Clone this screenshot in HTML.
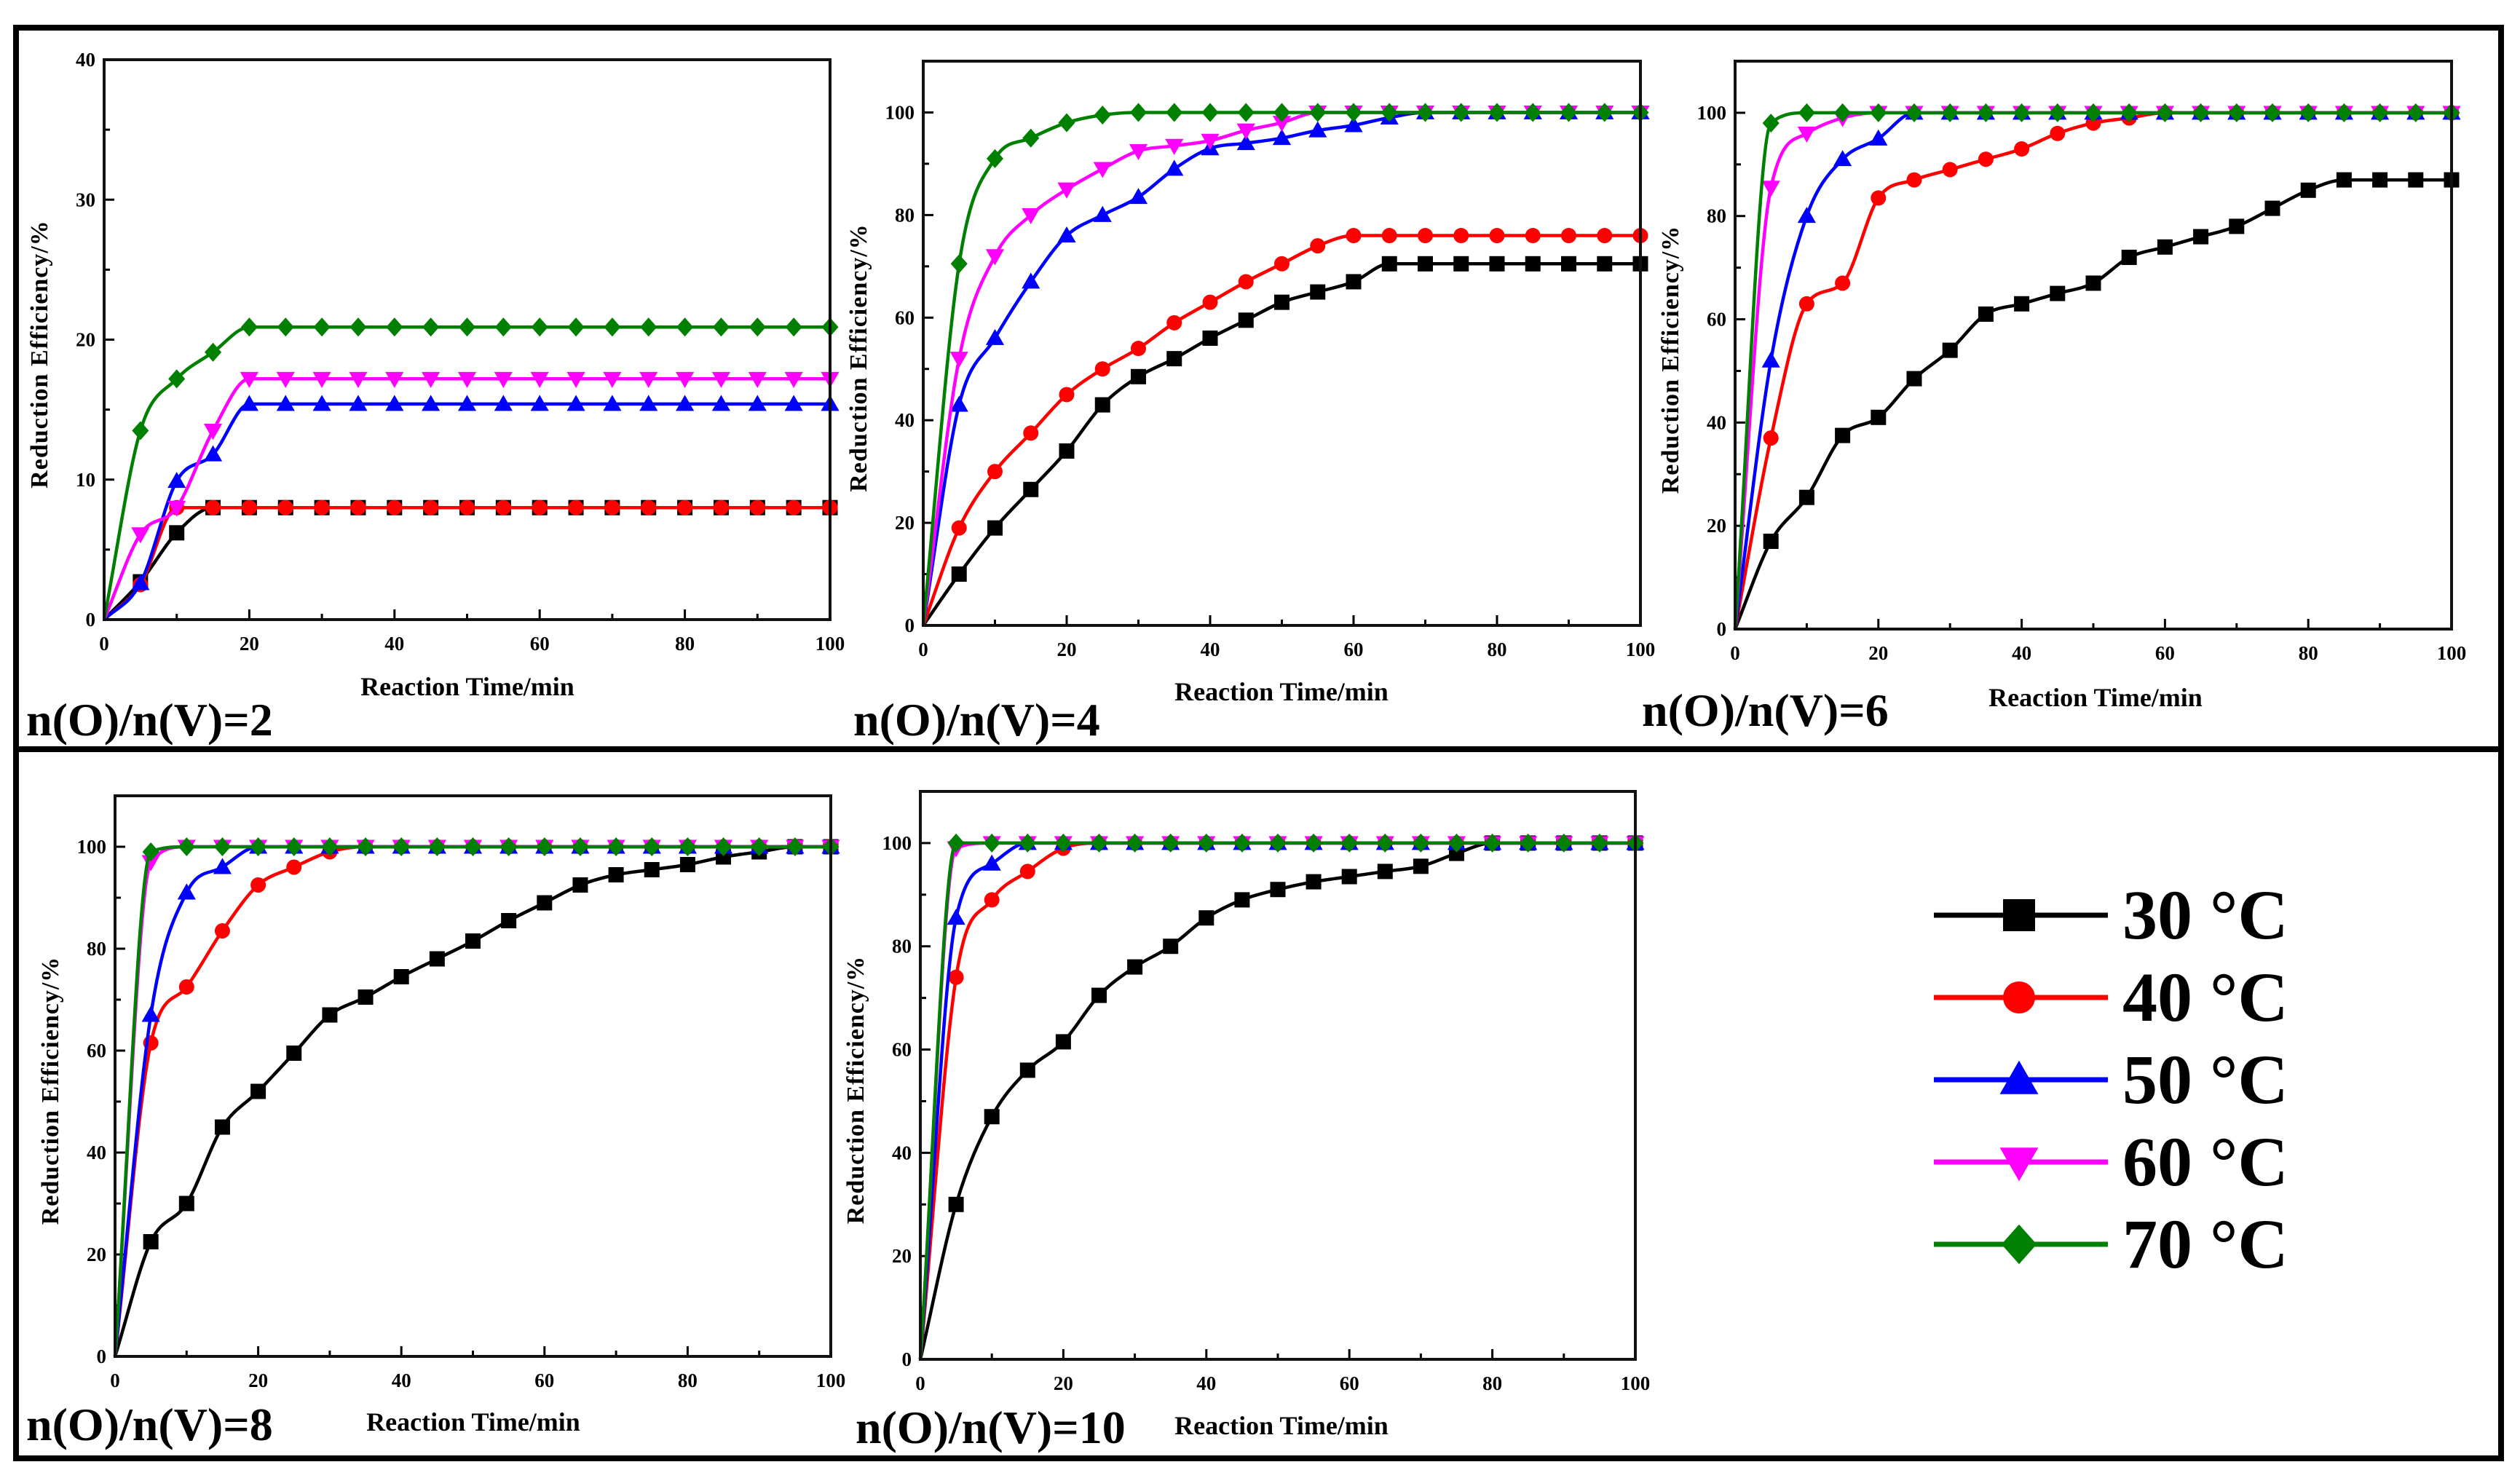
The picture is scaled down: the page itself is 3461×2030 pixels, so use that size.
<!DOCTYPE html>
<html><head><meta charset="utf-8">
<style>
html,body{margin:0;padding:0;background:#fff;}
svg{display:block;}
text{font-family:"Liberation Serif",serif;font-weight:bold;}
</style></head>
<body>
<svg id="fig" width="3461" height="2030" viewBox="0 0 3461 2030" xmlns="http://www.w3.org/2000/svg">
  <g fill="none" stroke="#000" stroke-width="8">
    <rect x="22" y="38" width="3413" height="991"/>
    <rect x="22" y="1029" width="3413" height="974"/>
  </g>
  <g id="panels"></g>
  <g id="legend"></g>
</svg>
<script>
const xTimes = [0,5,10,15,20,25,30,35,40,45,50,55,60,65,70,75,80,85,90,95,100];
const seriesNames = ["30 °C","40 °C","50 °C","60 °C","70 °C"];
const seriesColors = ["#000000","#ff0000","#0000ff","#ff00ff","#008000"];
const seriesMarkers = ["square","circle","triangle","invtriangle","diamond"];

const p1Black   = [0,2.7,6.2,8,8,8,8,8,8,8,8,8,8,8,8,8,8,8,8,8,8];
const p1Red     = [0,2.5,8,8,8,8,8,8,8,8,8,8,8,8,8,8,8,8,8,8,8];
const p1Blue    = [0,2.6,9.9,11.8,15.4,15.4,15.4,15.4,15.4,15.4,15.4,15.4,15.4,15.4,15.4,15.4,15.4,15.4,15.4,15.4,15.4];
const p1Magenta = [0,6.1,8,13.5,17.2,17.2,17.2,17.2,17.2,17.2,17.2,17.2,17.2,17.2,17.2,17.2,17.2,17.2,17.2,17.2,17.2];
const p1Green   = [0,13.5,17.2,19.1,20.9,20.9,20.9,20.9,20.9,20.9,20.9,20.9,20.9,20.9,20.9,20.9,20.9,20.9,20.9,20.9,20.9];

const p2Black   = [0,10,19,26.5,34,43,48.5,52,56,59.5,63,65,67,70.5,70.5,70.5,70.5,70.5,70.5,70.5,70.5];
const p2Red     = [0,19,30,37.5,45,50,54,59,63,67,70.5,74,76,76,76,76,76,76,76,76,76];
const p2Blue    = [0,43,56,67,76,80,83.5,89,93,94,95,96.5,97.5,99,100,100,100,100,100,100,100];
const p2Magenta = [0,52,72,80,85,89,92.5,93.5,94.5,96.5,98,100,100,100,100,100,100,100,100,100,100];
const p2Green   = [0,70.5,91,95,98,99.5,100,100,100,100,100,100,100,100,100,100,100,100,100,100,100];

const p3Black   = [0,17,25.5,37.5,41,48.5,54,61,63,65,67,72,74,76,78,81.5,85,87,87,87,87];
const p3Red     = [0,37,63,67,83.5,87,89,91,93,96,98,99,100,100,100,100,100,100,100,100,100];
const p3Blue    = [0,52,80,91,95,100,100,100,100,100,100,100,100,100,100,100,100,100,100,100,100];
const p3Magenta = [0,85.5,96,99,100,100,100,100,100,100,100,100,100,100,100,100,100,100,100,100,100];
const p3Green   = [0,98,100,100,100,100,100,100,100,100,100,100,100,100,100,100,100,100,100,100,100];

const p4Black   = [0,22.5,30,45,52,59.5,67,70.5,74.5,78,81.5,85.5,89,92.5,94.5,95.5,96.5,98,99,100,100];
const p4Red     = [0,61.5,72.5,83.5,92.5,96,99,100,100,100,100,100,100,100,100,100,100,100,100,100,100];
const p4Blue    = [0,67,91,96,100,100,100,100,100,100,100,100,100,100,100,100,100,100,100,100,100];
const p4Magenta = [0,97,100,100,100,100,100,100,100,100,100,100,100,100,100,100,100,100,100,100,100];
const p4Green   = [0,99,100,100,100,100,100,100,100,100,100,100,100,100,100,100,100,100,100,100,100];

const p5Black   = [0,30,47,56,61.5,70.5,76,80,85.5,89,91,92.5,93.5,94.5,95.5,98,100,100,100,100,100];
const p5Red     = [0,74,89,94.5,99,100,100,100,100,100,100,100,100,100,100,100,100,100,100,100,100];
const p5Blue    = [0,85.5,96,100,100,100,100,100,100,100,100,100,100,100,100,100,100,100,100,100,100];
const p5Magenta = [0,99,100,100,100,100,100,100,100,100,100,100,100,100,100,100,100,100,100,100,100];
const p5Green   = [0,100,100,100,100,100,100,100,100,100,100,100,100,100,100,100,100,100,100,100,100];

const panelTitles = ["n(O)/n(V)=2","n(O)/n(V)=4","n(O)/n(V)=6","n(O)/n(V)=8","n(O)/n(V)=10"];
const xTickLabels = [0,20,40,60,80,100];
const yTicks1 = [0,10,20,30,40];
const yTicks2 = [0,20,40,60,80,100];

const NS = "http://www.w3.org/2000/svg";
function mk(tag, attrs, parent){const e=document.createElementNS(NS,tag);for(const k in attrs)e.setAttribute(k,attrs[k]);if(parent)parent.appendChild(e);return e;}

const layouts = [
  {l:143,r:1140,t:82,b:851,ymax:40,yt:yTicks1,minor:5,data:[p1Black,p1Red,p1Blue,p1Magenta,p1Green],title:[36,1010],xt:[642,955]},
  {l:1268,r:2253,t:84,b:859,ymax:110,yt:yTicks2,minor:10,data:[p2Black,p2Red,p2Blue,p2Magenta,p2Green],title:[1172,1010],xt:[1760,962]},
  {l:2383,r:3367,t:84,b:864,ymax:110,yt:yTicks2,minor:10,data:[p3Black,p3Red,p3Blue,p3Magenta,p3Green],title:[2255,997],xt:[2878,970]},
  {l:158,r:1141,t:1093,b:1863,ymax:110,yt:yTicks2,minor:10,data:[p4Black,p4Red,p4Blue,p4Magenta,p4Green],title:[36,1978],xt:[650,1965]},
  {l:1264,r:2246,t:1087,b:1867,ymax:110,yt:yTicks2,minor:10,data:[p5Black,p5Red,p5Blue,p5Magenta,p5Green],title:[1175,1982],xt:[1760,1970]}
];

// monotone cubic (Fritsch-Carlson) - no overshoot
function smoothPath(pts){
  const n=pts.length, dx=[], m=[], t=new Array(n);
  for(let i=0;i<n-1;i++){dx.push(pts[i+1][0]-pts[i][0]);m.push((pts[i+1][1]-pts[i][1])/dx[i]);}
  t[0]=m[0]; t[n-1]=m[n-2];
  for(let i=1;i<n-1;i++){ t[i]=(m[i-1]*m[i]<=0)?0:(m[i-1]+m[i])/2; }
  for(let i=0;i<n-1;i++){
    if(m[i]===0){t[i]=0;t[i+1]=0;continue;}
    const a=t[i]/m[i], b=t[i+1]/m[i], s=a*a+b*b;
    if(s>9){const k=3/Math.sqrt(s);t[i]=k*a*m[i];t[i+1]=k*b*m[i];}
  }
  let d="M"+pts[0][0].toFixed(1)+","+pts[0][1].toFixed(1);
  for(let i=0;i<n-1;i++){
    const h=dx[i]/3;
    d+=" C"+(pts[i][0]+h).toFixed(1)+","+(pts[i][1]+t[i]*h).toFixed(1)+" "+(pts[i+1][0]-h).toFixed(1)+","+(pts[i+1][1]-t[i+1]*h).toFixed(1)+" "+pts[i+1][0].toFixed(1)+","+pts[i+1][1].toFixed(1);
  }
  return d;
}
function marker(g,type,cx,cy,s,color){
  let e;
  if(type==="square") e=mk("rect",{x:cx-s/2,y:cy-s/2,width:s,height:s,fill:color},g);
  else if(type==="circle") e=mk("circle",{cx:cx,cy:cy,r:s/2,fill:color},g);
  else if(type==="triangle") e=mk("polygon",{points:`${cx},${cy-s*0.6} ${cx-s*0.6},${cy+s*0.45} ${cx+s*0.6},${cy+s*0.45}`,fill:color},g);
  else if(type==="invtriangle") e=mk("polygon",{points:`${cx},${cy+s*0.6} ${cx-s*0.6},${cy-s*0.45} ${cx+s*0.6},${cy-s*0.45}`,fill:color},g);
  else e=mk("polygon",{points:`${cx},${cy-s*0.62} ${cx+s*0.55},${cy} ${cx},${cy+s*0.62} ${cx-s*0.55},${cy}`,fill:color},g);
  return e;
}

const panelsG=document.getElementById("panels");
layouts.forEach((L,pi)=>{
  const g=mk("g",{},panelsG);
  
  
  const X=v=>L.l+(v/100)*(L.r-L.l);
  const Y=v=>L.b-(v/L.ymax)*(L.b-L.t);
  const tk=mk("g",{stroke:"#000","stroke-width":3},g);
  
  
  for(let v=0;v<=100;v+=10){mk("line",{x1:X(v),x2:X(v),y1:L.b,y2:L.b-(v%20===0?14:8)},tk);}
  for(let v=0;v<=L.ymax;v+=L.minor){mk("line",{x1:L.l,x2:L.l+(v%(L.minor*2)===0?14:8),y1:Y(v),y2:Y(v)},tk);}
  L.data.forEach((arr,si)=>{
    const sg=mk("g",{},g);
    
    
    const pts=arr.map((v,i)=>[X(xTimes[i]),Y(v)]);
    const path=mk("path",{d:smoothPath(pts),fill:"none",stroke:seriesColors[si],"stroke-width":4.5},sg);
    
    
    arr.forEach((v,i)=>{
      if(i===0) return;
      const m=marker(sg,seriesMarkers[si],X(xTimes[i]),Y(v),21,seriesColors[si]);
      
      
    });
  });
  const fr=mk("rect",{x:L.l,y:L.t,width:L.r-L.l,height:L.b-L.t,fill:"none",stroke:"#111","stroke-width":4},g);
  
  
  xTickLabels.forEach(v=>{
    const t=mk("text",{x:X(v),y:L.b+42,"font-size":27,"text-anchor":"middle"},g);
    t.textContent=v;
    
    
  });
  L.yt.forEach(v=>{
    const t=mk("text",{x:L.l-12,y:Y(v)+9,"font-size":27,"text-anchor":"end"},g);
    t.textContent=v;
    
    
  });
  const xt=mk("text",{x:L.xt[0],y:L.xt[1],"font-size":36,"text-anchor":"middle"},g);
  xt.textContent="Reaction Time/min";
  
  
  const yx=L.l-78, yy=(L.t+L.b)/2+20;
  const yt=mk("text",{x:yx,y:yy,"font-size":34,"text-anchor":"middle",transform:`rotate(-90 ${yx} ${yy})`,"letter-spacing":"1"},g);
  yt.textContent="Reduction Efficiency/%";
  
  
  const pt=mk("text",{x:L.title[0],y:L.title[1],"font-size":64},g);
  pt.textContent=panelTitles[pi];
  
  
});

const lg=document.getElementById("legend");
const legendY0=1257, legendDy=113;
seriesNames.forEach((n,i)=>{
  const e=mk("g",{},lg);
  
  
  const y=legendY0+i*legendDy;
  mk("line",{x1:2656,x2:2895,y1:y,y2:y,stroke:seriesColors[i],"stroke-width":7},e);
  marker(e,seriesMarkers[i],2773,y,44,seriesColors[i]);
  const t=mk("text",{x:2915,y:y+32,"font-size":96},e);
  t.textContent=n;
});
</script>
</body></html>
